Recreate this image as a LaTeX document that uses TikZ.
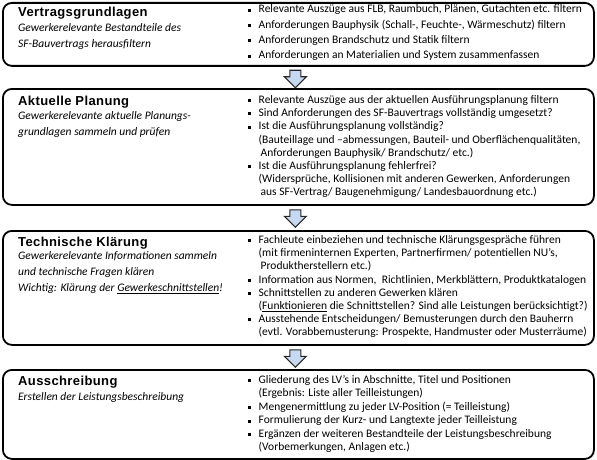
\documentclass[tikz,border=0pt]{standalone}
\usepackage{fontspec}
\setmainfont{Carlito}
\newfontfamily\ttlfont[LetterSpace=3]{Liberation Sans}
\usetikzlibrary{calc}
\definecolor{arrowblue}{HTML}{C6D9F1}
\newcommand\bitem{\makebox[10.5pt][l]{\raisebox{1.3pt}{\rule{3pt}{3pt}}}}
\newcommand\bcont{\hspace*{10.5pt}}
\newcommand\bcontx{\hspace*{12.5pt}}
\begin{document}
\begin{tikzpicture}[x=1pt,y=-1pt,
  stage/.style={draw=black, line width=1.8pt, rounded corners=9pt, fill=white,
    inner sep=0pt, anchor=north west, minimum width=591pt},
  ttl/.style={font=\ttlfont\bfseries\fontsize{13}{15}\selectfont, anchor=base west, inner sep=0pt},
  sub/.style={font=\itshape\fontsize{11.5}{#1}\selectfont, align=left, anchor=north west, inner sep=0pt},
  items/.style={font=\fontsize{11.5}{#1}\selectfont, align=left, anchor=north west, inner sep=0pt},
  flow/.style={draw=black!85, line width=1.1pt, fill=arrowblue, line join=miter}]
\useasboundingbox (0,0) rectangle (597,460);
% stage boxes
\node[stage, minimum height=63pt]  (b1) at (2,2) {};
\node[stage, minimum height=116pt] (b2) at (2,88) {};
\node[stage, minimum height=114pt] (b3) at (2,230) {};
\node[stage, minimum height=89pt]  (b4) at (2,369) {};
% arrows
\coordinate (a1) at ($(b1.south)+(-3,3.5)$);
\coordinate (a2) at ($(b2.south)+(-3,4)$);
\coordinate (a3) at ($(b3.south)+(-3,4)$);
\foreach \a in {a1,a2,a3}{
  \draw[flow] (\a) ++(-5.5,0) -- ++(11,0) -- ++(0,6.5) -- ++(5.5,0) -- ++(-11,11)
    -- ++(-11,-11) -- ++(5.5,0) -- cycle;
}
% titles
\node[ttl] (t1) at (18,16.5) {Vertragsgrundlagen};
\node[ttl] (t2) at (18,106) {Aktuelle Planung};
\node[ttl] (t3) at (18,246) {Technische Klärung};
\node[ttl] (t4) at (18,385.5) {Ausschreibung};
% subtitles
\node[sub=16] (s1) at (18,20.3) {\strut Gewerkerelevante Bestandteile des\\SF-Bauvertrags herausfiltern};
\node[sub=16] (s2) at (18,108.3) {\strut Gewerkerelevante aktuelle Planungs-\\grundlagen sammeln und prüfen};
\node[sub=16] (s3) at (18,248.3) {\strut Gewerkerelevante Informationen sammeln\\und technische Fragen klären\\Wichtig: Klärung der \underline{Gewerkeschnittstellen}!};
\node[sub=16] (s4) at (18,389.3) {\strut Erstellen der Leistungsbeschreibung};
% item lists
\node[items=15.3] (i1) at (248,2.0) {\strut\bitem Relevante Auszüge aus FLB, Raumbuch, Plänen, Gutachten etc. filtern\\
\bitem Anforderungen Bauphysik (Schall-, Feuchte-, Wärmeschutz) filtern\\
\bitem Anforderungen Brandschutz und Statik filtern\\
\bitem Anforderungen an Materialien und System zusammenfassen};
\node[items=13.2] (i2) at (248,94.0) {\strut\bitem Relevante Auszüge aus der aktuellen Ausführungsplanung filtern\\
\bitem Sind Anforderungen des SF-Bauvertrags vollständig umgesetzt?\\
\bitem Ist die Ausführungsplanung vollständig?\\
\bcont(Bauteillage und –abmessungen, Bauteil- und Oberflächenqualitäten,\\
\bcontx Anforderungen Bauphysik/ Brandschutz/ etc.)\\
\bitem Ist die Ausführungsplanung fehlerfrei?\\
\bcont(Widersprüche, Kollisionen mit anderen Gewerken, Anforderungen\\
\bcontx aus SF-Vertrag/ Baugenehmigung/ Landesbauordnung etc.)};
\node[items=13.2] (i3) at (248,234.0) {\strut\bitem Fachleute einbeziehen und technische Klärungsgespräche führen\\
\bcont(mit firmeninternen Experten, Partnerfirmen/ potentiellen NU’s,\\
\bcontx Produktherstellern etc.)\\
\bitem Information aus Normen,\ \ Richtlinien, Merkblättern, Produktkatalogen\\
\bitem Schnittstellen zu anderen Gewerken klären\\
\bcont(\underline{Funktionieren} die Schnittstellen? Sind alle Leistungen berücksichtigt?)\\
\bitem Ausstehende Entscheidungen/ Bemusterungen durch den Bauherrn\\
\bcont(evtl. Vorabbemusterung: Prospekte, Handmuster oder Musterräume)};
\node[items=13.5] (i4) at (248,373.8) {\strut\bitem Gliederung des LV’s in Abschnitte, Titel und Positionen\\
\bcont(Ergebnis: Liste aller Teilleistungen)\\
\bitem Mengenermittlung zu jeder LV-Position (= Teilleistung)\\
\bitem Formulierung der Kurz- und Langtexte jeder Teilleistung\\
\bitem Ergänzen der weiteren Bestandteile der Leistungsbeschreibung\\
\bcont(Vorbemerkungen, Anlagen etc.)};
\end{tikzpicture}
\end{document}
